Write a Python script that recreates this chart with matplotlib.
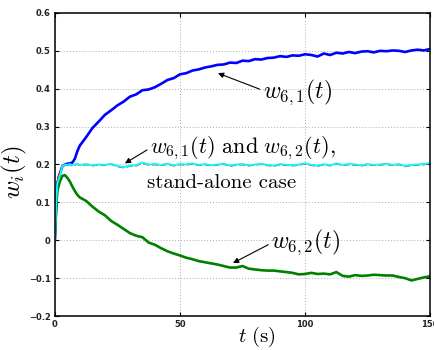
import numpy as np
import matplotlib
matplotlib.use('Agg')
import matplotlib.pyplot as plt

plt.rcParams['mathtext.fontset'] = 'cm'

# time axis (s)
t = [0, 0.5, 1, 2, 3, 4, 5, 6, 7, 8, 9, 10,
     12.5, 15, 17.5, 20, 22.5, 25, 27.5, 30, 32.5, 35, 37.5, 40, 42.5, 45, 47.5, 50,
     52.5, 55, 57.5, 60, 62.5, 65, 67.5, 70, 72.5, 75, 77.5, 80, 82.5, 85, 87.5, 90,
     92.5, 95, 97.5, 100, 102.5, 105, 107.5, 110, 112.5, 115, 117.5, 120, 122.5, 125,
     127.5, 130, 132.5, 135, 137.5, 140, 142.5, 145, 147.5, 150]

w61 = [0.0, 0.08, 0.15, 0.175, 0.195, 0.2, 0.202, 0.203, 0.205, 0.215, 0.235, 0.25,
       0.272, 0.296, 0.313, 0.331, 0.343, 0.356, 0.366, 0.379, 0.385, 0.396, 0.398, 0.404,
       0.413, 0.423, 0.428, 0.438, 0.441, 0.448, 0.451, 0.456, 0.459, 0.463, 0.464, 0.469,
       0.468, 0.474, 0.473, 0.478, 0.477, 0.481, 0.482, 0.486, 0.484, 0.488, 0.487, 0.491,
       0.489, 0.485, 0.493, 0.489, 0.495, 0.493, 0.497, 0.494, 0.498, 0.499, 0.496, 0.5,
       0.499, 0.501, 0.5, 0.497, 0.501, 0.503, 0.501, 0.505]

w62 = [0.0, 0.08, 0.13, 0.155, 0.17, 0.172, 0.165, 0.155, 0.142, 0.13, 0.12, 0.113,
       0.104, 0.089, 0.076, 0.066, 0.051, 0.041, 0.03, 0.019, 0.012, 0.008, -0.006, -0.012,
       -0.021, -0.029, -0.035, -0.04, -0.046, -0.05, -0.055, -0.058, -0.061, -0.064, -0.068, -0.072,
       -0.072, -0.068, -0.075, -0.077, -0.079, -0.08, -0.08, -0.082, -0.084, -0.086, -0.09, -0.089,
       -0.086, -0.089, -0.088, -0.09, -0.084, -0.094, -0.096, -0.092, -0.094, -0.093, -0.091, -0.092,
       -0.093, -0.093, -0.097, -0.1, -0.106, -0.102, -0.098, -0.095]

# stand-alone case (both weights)
w_sa_cyan = [0.0, 0.09, 0.15, 0.17, 0.195, 0.2, 0.199, 0.201, 0.198, 0.2, 0.202, 0.199,
             0.201, 0.198, 0.2, 0.199, 0.202, 0.196, 0.193, 0.197, 0.198, 0.205, 0.2, 0.201,
             0.199, 0.202, 0.198, 0.201, 0.2, 0.203, 0.199, 0.201, 0.198, 0.2, 0.202, 0.197,
             0.2, 0.201, 0.198, 0.2, 0.202, 0.199, 0.197, 0.201, 0.199, 0.198, 0.2, 0.203,
             0.199, 0.197, 0.201, 0.198, 0.203, 0.199, 0.201, 0.2, 0.198, 0.201, 0.199, 0.2,
             0.202, 0.199, 0.201, 0.196, 0.199, 0.2, 0.201, 0.204]
w_sa_red = [0.0, 0.1, 0.16, 0.18, 0.196, 0.199, 0.198, 0.2, 0.197, 0.199, 0.201, 0.198,
            0.2, 0.197, 0.199, 0.198, 0.201, 0.195, 0.192, 0.196, 0.197, 0.204, 0.199, 0.2,
            0.198, 0.201, 0.197, 0.2, 0.199, 0.202, 0.198, 0.2, 0.197, 0.199, 0.201, 0.196,
            0.199, 0.2, 0.197, 0.199, 0.201, 0.198, 0.196, 0.2, 0.198, 0.197, 0.199, 0.202,
            0.198, 0.196, 0.2, 0.197, 0.202, 0.198, 0.2, 0.199, 0.197, 0.2, 0.198, 0.199,
            0.201, 0.198, 0.2, 0.195, 0.198, 0.199, 0.2, 0.203]

xticks = [0, 50, 100, 150]
xticklabels = ['0', '50', '100', '150']
yticks = [-0.2, -0.1, 0, 0.1, 0.2, 0.3, 0.4, 0.5, 0.6]
yticklabels = ['\u22120.2', '\u22120.1', '0', '0.1', '0.2', '0.3', '0.4', '0.5', '0.6']

fig = plt.figure(figsize=(4.35, 3.5), dpi=100)
ax = fig.add_axes([0.126, 0.097, 0.863, 0.866])

ax.plot(t, w61, color='#0000ff', lw=1.9)
ax.plot(t, w62, color='#008000', lw=1.9)
ax.plot(t, w_sa_red, color='#ff0000', lw=1.2, ls='--')
ax.plot(t, w_sa_cyan, color='#00ffff', lw=1.4)

ax.set_xlim(0, 150)
ax.set_ylim(-0.2, 0.6)
ax.set_xticks(xticks)
ax.set_xticklabels(xticklabels)
ax.set_yticks(yticks)
ax.set_yticklabels(yticklabels)
ax.tick_params(direction='in', top=True, right=True, labelsize=6, length=3,
               width=0.8, pad=3, labelcolor='#222222')
for tl in ax.get_xticklabels() + ax.get_yticklabels():
    tl.set_fontweight('bold')
for s in ax.spines.values():
    s.set_linewidth(1.1)
ax.grid(True, color='#aaaaaa', ls=(0, (1, 2)), lw=0.7)

ax.set_xlabel(r'$t\ \mathrm{(s)}$', fontsize=15)
ax.xaxis.set_label_coords(0.539, -0.028)
ax.set_ylabel(r'$w_i(t)$', fontsize=18)
ax.yaxis.set_label_coords(-0.068, 0.475)

arr = dict(arrowstyle='-|>', color='black', lw=0.8, mutation_scale=8,
           shrinkA=0, shrinkB=0)
ax.annotate(r'$w_{6,1}(t)$', xy=(65.2, 0.441), xytext=(83, 0.392),
            fontsize=17, ha='left', va='center',
            arrowprops=dict(arr, relpos=(0, 0.55)))
ax.annotate(r'$w_{6,1}(t)\ \mathrm{and}\ w_{6,2}(t),$', xy=(28, 0.203),
            xytext=(38, 0.243), fontsize=16, ha='left', va='center',
            arrowprops=dict(arr, relpos=(0, 0.5)))
ax.text(36.8, 0.15, 'stand-alone case', family='cmr10', fontsize=15,
        ha='left', va='center')
ax.annotate(r'$w_{6,2}(t)$', xy=(71.2, -0.06), xytext=(86.4, -0.004),
            fontsize=17, ha='left', va='center',
            arrowprops=dict(arr, relpos=(0, 0.45)))

fig.savefig('out.png', dpi=100)
